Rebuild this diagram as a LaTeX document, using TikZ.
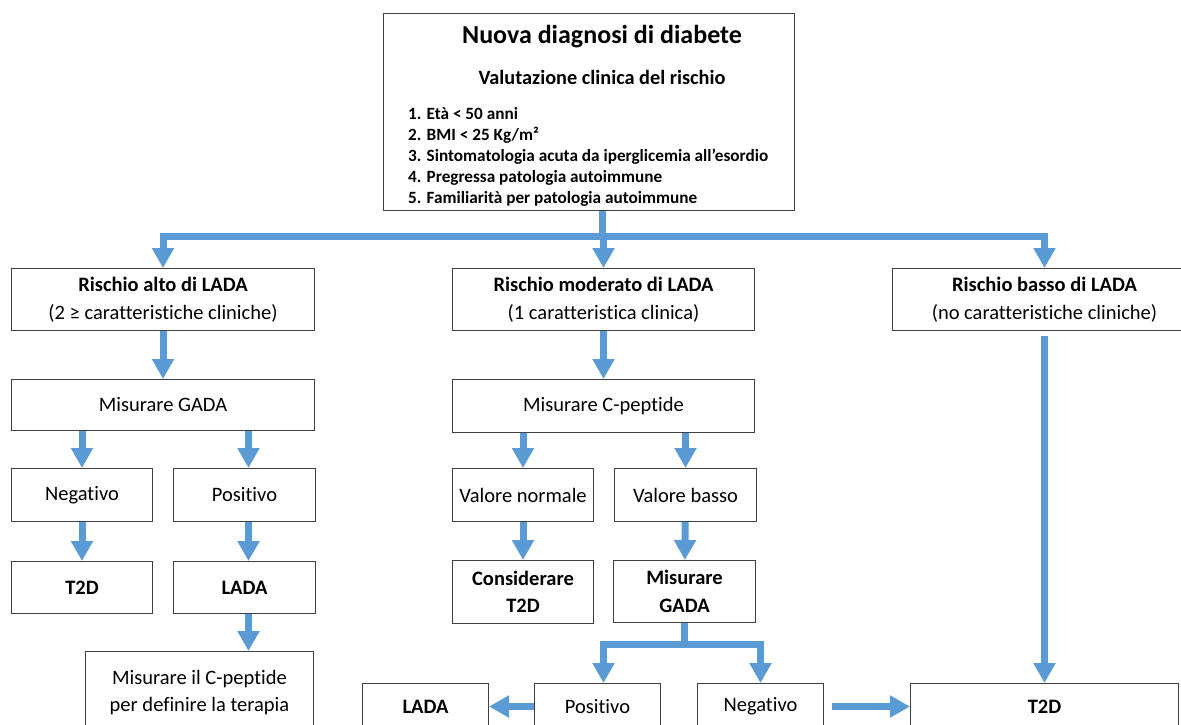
\documentclass[tikz,border=0pt]{standalone}
\usepackage{fontspec}
\setmainfont{Carlito}[Ligatures=NoCommon]
\usetikzlibrary{arrows.meta, positioning}
\definecolor{flowblue}{RGB}{91,155,213}
\definecolor{boxgray}{RGB}{64,64,64}

\begin{document}
\begin{tikzpicture}[x=1pt, y=-1pt,
    box/.style={draw=boxgray, line width=1pt, fill=white, align=center, inner sep=0pt,
        font=\fontsize{20.5}{27.5}\selectfont},
    arrow/.style={-{Triangle[length=20pt, width=21pt]}, line width=7pt, draw=flowblue},
    node distance=20pt
]

    % Page frame (the bottom row is cut by the lower edge)
    \fill[white] (0,0) rectangle (1181,724);
    \useasboundingbox (0,0) rectangle (1181,724);
    \clip (0,0) rectangle (1181,724);

    % Top box with the clinical criteria
    \node[box, minimum width=411pt, minimum height=197pt, anchor=north west] (top_box) at (383,13) {};
    \node[font=\fontsize{26}{30}\selectfont\bfseries, anchor=base, inner sep=0pt] (title) at (602,43) {Nuova diagnosi di diabete};
    \node[font=\fontsize{20.3}{24}\selectfont\bfseries, anchor=base, inner sep=0pt] (subtitle) at (602,84) {Valutazione clinica del rischio};
    \node[font=\fontsize{17.2}{21.2}\selectfont\bfseries, align=left, anchor=west, inner sep=0pt] (criteria) at (408,157) {1. Età < 50 anni\\2. BMI < 25 Kg/m²\\3. Sintomatologia acuta da iperglicemia all’esordio\\4. Pregressa patologia autoimmune\\5. Familiarità per patologia autoimmune};

    % Risk classes
    \node[box, minimum width=303pt, minimum height=62pt, anchor=north west] (risk_high) at (11,268) {\textbf{Rischio alto di LADA}\\(2 ≥ caratteristiche cliniche)};
    \node[box, minimum width=302pt, minimum height=62pt, anchor=north west] (risk_mod) at (452,268) {\textbf{Rischio moderato di LADA}\\(1 caratteristica clinica)};
    \node[box, minimum width=304pt, minimum height=62pt, anchor=north west] (risk_low) at (892,268) {\textbf{Rischio basso di LADA}\\(no caratteristiche cliniche)};

    % High risk branch
    \node[box, minimum width=303pt, minimum height=51pt, below=48pt of risk_high] (gada_high) {Misurare GADA};
    \node[box, minimum width=141pt, minimum height=53pt, anchor=north west] (neg_high) at (11,468) {Negativo};
    \node[box, minimum width=142pt, minimum height=53pt, right=of neg_high] (pos_high) {Positivo};
    \node[box, minimum width=141pt, minimum height=52pt, below=39pt of neg_high] (t2d_high) {\textbf{T2D}};
    \node[box, minimum width=142pt, minimum height=52pt, below=39pt of pos_high] (lada_high) {\textbf{LADA}};
    \node[box, minimum width=228pt, minimum height=82pt, anchor=north east] (cpep_therapy) at (314,651) {Misurare il C-peptide\\per definire la terapia};

    % Moderate risk branch
    \node[box, minimum width=302pt, minimum height=53pt, below=48pt of risk_mod] (cpep_mod) {Misurare C-peptide};
    \node[box, minimum width=141pt, minimum height=53pt, anchor=north west] (normal_mod) at (452,468) {Valore normale};
    \node[box, minimum width=142pt, minimum height=53pt, right=of normal_mod] (low_mod) {Valore basso};
    \node[box, minimum width=141pt, minimum height=63pt, anchor=north west] (consider_t2d) at (452,560) {\textbf{Considerare}\\\textbf{T2D}};
    \node[box, minimum width=142pt, minimum height=62pt, anchor=north west] (gada_mod) at (613,560) {\textbf{Misurare}\\\textbf{GADA}};

    % Bottom row
    \node[box, minimum width=126pt, minimum height=46pt, anchor=north west] (pos_mod) at (534,683) {Positivo};
    \node[box, minimum width=126pt, minimum height=46pt, left=45pt of pos_mod] (lada_mod) {\textbf{LADA}};
    \node[box, minimum width=126pt, minimum height=46pt, anchor=north west] (neg_mod) at (697,683) {Negativo};
    \node[box, minimum width=268pt, minimum height=46pt, anchor=north west] (t2d_final) at (910,683) {\textbf{T2D}};

    % Split below the top box
    \coordinate (split) at ([yshift=-25pt]title |- top_box.south);
    \draw[line width=7pt, draw=flowblue] (title |- top_box.south) -- (split);
    \draw[arrow] (split) -| (risk_high.north);
    \draw[arrow] (split) -- (split -| risk_mod.north) -- (risk_mod.north);
    \draw[arrow] (split) -| (risk_low.north);

    % High risk arrows
    \draw[arrow] (risk_high) -- (gada_high);
    \draw[arrow] (gada_high.south -| neg_high.north) -- (neg_high.north);
    \draw[arrow] ([xshift=4pt]gada_high.south -| pos_high.north) -- ([xshift=4pt]pos_high.north);
    \draw[arrow] (neg_high) -- (t2d_high);
    \draw[arrow] ([xshift=4pt]pos_high.south) -- ([xshift=4pt]lada_high.north);
    \draw[arrow] ([xshift=4pt]lada_high.south) -- ([xshift=4pt]lada_high.south |- cpep_therapy.north);

    % Moderate risk arrows
    \draw[arrow] (risk_mod) -- (cpep_mod);
    \draw[arrow] (cpep_mod.south -| normal_mod.north) -- (normal_mod.north);
    \draw[arrow] (cpep_mod.south -| low_mod.north) -- (low_mod.north);
    \draw[arrow] (normal_mod) -- (consider_t2d);
    \draw[arrow] (low_mod) -- (gada_mod);
    \coordinate (split_gada) at ([yshift=-21pt]gada_mod.south);
    \draw[line width=7pt, draw=flowblue] (gada_mod.south) -- (split_gada);
    \draw[arrow] (split_gada) -| ([xshift=6pt]pos_mod.north);
    \draw[arrow] (split_gada) -| (neg_mod.north);
    \draw[arrow] (pos_mod) -- (lada_mod);
    \draw[arrow, shorten <=8pt] (neg_mod) -- (t2d_final);

    % Low risk arrow
    \draw[arrow, shorten <=5pt] (risk_low) -- (t2d_final);

\end{tikzpicture}
\end{document}
